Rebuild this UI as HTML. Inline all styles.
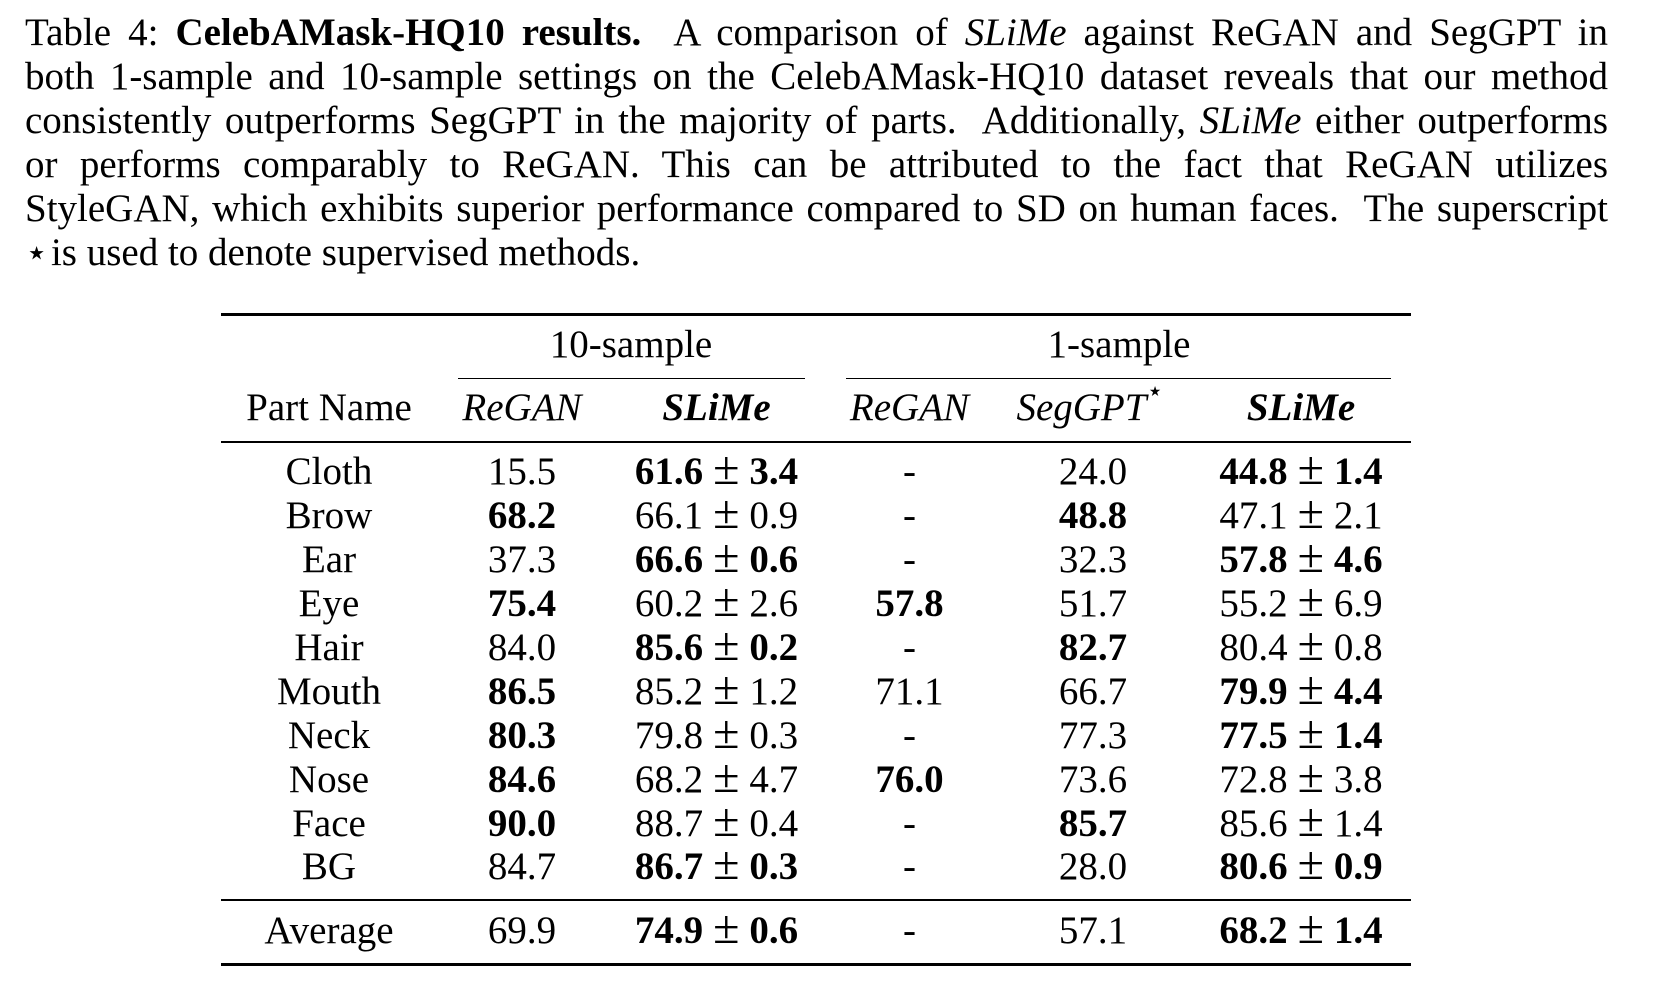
<!DOCTYPE html>
<html>
<head>
<meta charset="utf-8">
<style>
html,body{margin:0;padding:0;background:#fff;}
body{width:1656px;height:982px;position:relative;overflow:hidden;}
.L{position:absolute;left:25px;width:1583px;font:39px "Liberation Serif","DejaVu Serif",serif;line-height:39px;color:#000;text-align:justify;text-align-last:justify;}
.L.last{text-align:left;text-align-last:left;}
.r{position:absolute;left:0;width:1656px;height:39px;font:39px "Liberation Serif","DejaVu Serif",serif;line-height:39px;color:#000;}
.r span.c{position:absolute;top:0;width:300px;text-align:center;white-space:nowrap;}
.c1{left:179px}.c2{left:372px}.c3{left:566.5px}.c4{left:759.5px}.c5{left:943px}.c6{left:1151px}
.pm{font-weight:normal;margin:0 10px;font-size:48px;line-height:0;}
.rule{position:absolute;background:#000;}
.star{font-family:"DejaVu Sans",sans-serif;font-size:0.95em;margin-right:-7px;line-height:0;}
sup{font-size:0.7em;vertical-align:0;position:relative;top:-0.75em;font-style:normal;font-family:"DejaVu Sans",sans-serif;line-height:0;}
</style>
</head>
<body>
<div class="L" style="top:13px">Table 4: <b>CelebAMask-HQ10 results.</b>&nbsp; A comparison of <i>SLiMe</i> against ReGAN and SegGPT in</div>
<div class="L" style="top:56.9px">both 1-sample and 10-sample settings on the CelebAMask-HQ10 dataset reveals that our method</div>
<div class="L" style="top:100.8px">consistently outperforms SegGPT in the majority of parts.&nbsp; Additionally, <i>SLiMe</i> either outperforms</div>
<div class="L" style="top:144.7px">or performs comparably to ReGAN. This can be attributed to the fact that ReGAN utilizes</div>
<div class="L" style="top:188.6px">StyleGAN, which exhibits superior performance compared to SD on human faces.&nbsp; The superscript</div>
<div class="L last" style="top:232.5px"><span class="star">⋆</span> is used to denote supervised methods.</div>

<div class="rule" style="left:221px;width:1190px;top:312.5px;height:3px"></div>
<div class="rule" style="left:458px;width:347px;top:377.6px;height:1.4px"></div>
<div class="rule" style="left:846px;width:545px;top:377.6px;height:1.4px"></div>
<div class="rule" style="left:221px;width:1190px;top:441.3px;height:2px"></div>
<div class="rule" style="left:221px;width:1190px;top:898.6px;height:2px"></div>
<div class="rule" style="left:221px;width:1190px;top:962.5px;height:3px"></div>

<div class="r" style="top:325.3px"><span class="c" style="left:481px">10-sample</span><span class="c" style="left:969px">1-sample</span></div>
<div class="r" style="top:388px"><span class="c c1">Part Name</span><span class="c c2"><i>ReGAN</i></span><span class="c c3"><b><i>SLiMe</i></b></span><span class="c c4"><i>ReGAN</i></span><span class="c" style="left:940px"><i>SegGPT</i><sup>⋆</sup></span><span class="c c6"><b><i>SLiMe</i></b></span></div>

<div class="r" style="top:452.3px"><span class="c c1">Cloth</span><span class="c c2">15.5</span><span class="c c3"><b>61.6<span class="pm">±</span>3.4</b></span><span class="c c4">-</span><span class="c c5">24.0</span><span class="c c6"><b>44.8<span class="pm">±</span>1.4</b></span></div>
<div class="r" style="top:496.2px"><span class="c c1">Brow</span><span class="c c2"><b>68.2</b></span><span class="c c3">66.1<span class="pm">±</span>0.9</span><span class="c c4">-</span><span class="c c5"><b>48.8</b></span><span class="c c6">47.1<span class="pm">±</span>2.1</span></div>
<div class="r" style="top:540.1px"><span class="c c1">Ear</span><span class="c c2">37.3</span><span class="c c3"><b>66.6<span class="pm">±</span>0.6</b></span><span class="c c4">-</span><span class="c c5">32.3</span><span class="c c6"><b>57.8<span class="pm">±</span>4.6</b></span></div>
<div class="r" style="top:584px"><span class="c c1">Eye</span><span class="c c2"><b>75.4</b></span><span class="c c3">60.2<span class="pm">±</span>2.6</span><span class="c c4"><b>57.8</b></span><span class="c c5">51.7</span><span class="c c6">55.2<span class="pm">±</span>6.9</span></div>
<div class="r" style="top:627.9px"><span class="c c1">Hair</span><span class="c c2">84.0</span><span class="c c3"><b>85.6<span class="pm">±</span>0.2</b></span><span class="c c4">-</span><span class="c c5"><b>82.7</b></span><span class="c c6">80.4<span class="pm">±</span>0.8</span></div>
<div class="r" style="top:671.8px"><span class="c c1">Mouth</span><span class="c c2"><b>86.5</b></span><span class="c c3">85.2<span class="pm">±</span>1.2</span><span class="c c4">71.1</span><span class="c c5">66.7</span><span class="c c6"><b>79.9<span class="pm">±</span>4.4</b></span></div>
<div class="r" style="top:715.7px"><span class="c c1">Neck</span><span class="c c2"><b>80.3</b></span><span class="c c3">79.8<span class="pm">±</span>0.3</span><span class="c c4">-</span><span class="c c5">77.3</span><span class="c c6"><b>77.5<span class="pm">±</span>1.4</b></span></div>
<div class="r" style="top:759.6px"><span class="c c1">Nose</span><span class="c c2"><b>84.6</b></span><span class="c c3">68.2<span class="pm">±</span>4.7</span><span class="c c4"><b>76.0</b></span><span class="c c5">73.6</span><span class="c c6">72.8<span class="pm">±</span>3.8</span></div>
<div class="r" style="top:803.5px"><span class="c c1">Face</span><span class="c c2"><b>90.0</b></span><span class="c c3">88.7<span class="pm">±</span>0.4</span><span class="c c4">-</span><span class="c c5"><b>85.7</b></span><span class="c c6">85.6<span class="pm">±</span>1.4</span></div>
<div class="r" style="top:847.4px"><span class="c c1">BG</span><span class="c c2">84.7</span><span class="c c3"><b>86.7<span class="pm">±</span>0.3</b></span><span class="c c4">-</span><span class="c c5">28.0</span><span class="c c6"><b>80.6<span class="pm">±</span>0.9</b></span></div>
<div class="r" style="top:910.6px"><span class="c c1">Average</span><span class="c c2">69.9</span><span class="c c3"><b>74.9<span class="pm">±</span>0.6</b></span><span class="c c4">-</span><span class="c c5">57.1</span><span class="c c6"><b>68.2<span class="pm">±</span>1.4</b></span></div>
</body>
</html>
